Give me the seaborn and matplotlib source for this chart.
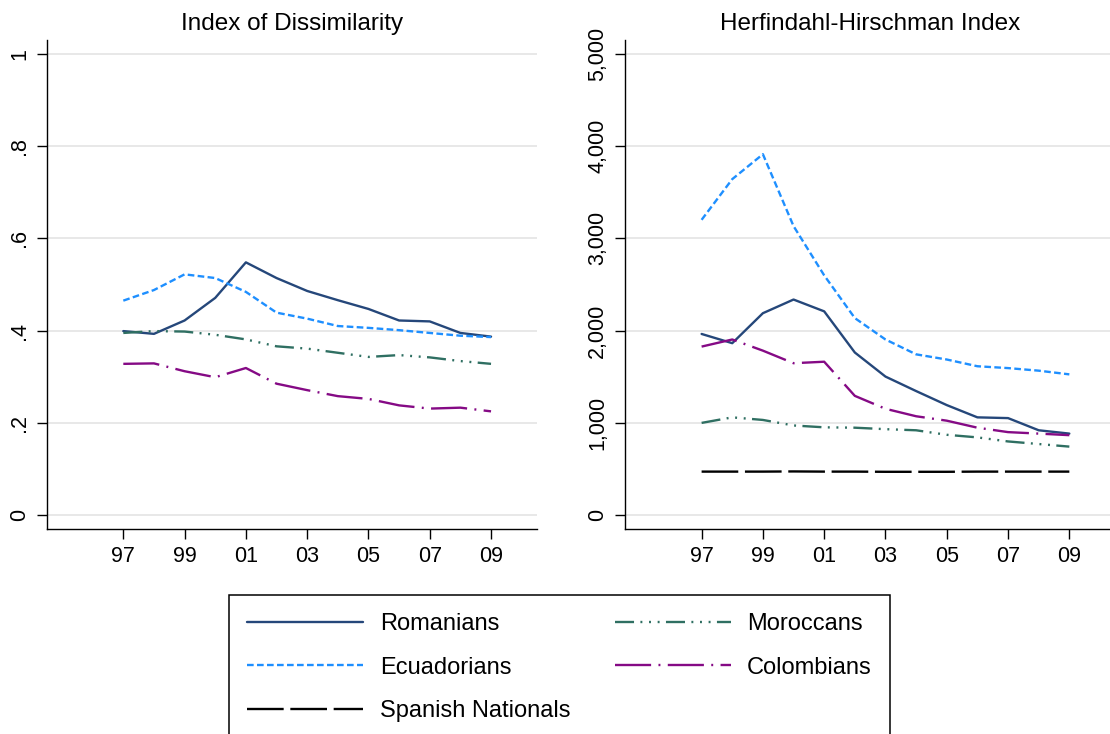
import matplotlib
matplotlib.use("Agg")
import matplotlib.pyplot as plt
import seaborn as sns
import numpy as np

years = [1997, 1998, 1999, 2000, 2001, 2002, 2003, 2004, 2005, 2006, 2007, 2008, 2009]
xtick_vals = [1997, 1999, 2001, 2003, 2005, 2007, 2009]
xtick_labels = ["97", "99", "01", "03", "05", "07", "09"]

# Index of Dissimilarity
dis_romanians   = [0.399, 0.393, 0.422, 0.471, 0.548, 0.514, 0.486, 0.466, 0.447, 0.422, 0.420, 0.395, 0.387]
dis_ecuadorians = [0.465, 0.488, 0.522, 0.514, 0.484, 0.439, 0.426, 0.410, 0.406, 0.401, 0.395, 0.389, 0.386]
dis_moroccans   = [0.395, 0.399, 0.398, 0.391, 0.381, 0.366, 0.361, 0.352, 0.343, 0.347, 0.342, 0.334, 0.328]
dis_colombians  = [0.328, 0.329, 0.312, 0.299, 0.319, 0.285, 0.271, 0.258, 0.252, 0.238, 0.231, 0.233, 0.225]

# Herfindahl-Hirschman Index
hhi_romanians   = [1964, 1864, 2189, 2337, 2209, 1763, 1502, 1345, 1193, 1060, 1052, 920, 884]
hhi_ecuadorians = [3201, 3642, 3912, 3133, 2599, 2136, 1904, 1743, 1687, 1614, 1594, 1566, 1526]
hhi_moroccans   = [1000, 1060, 1032, 972, 952, 948, 932, 920, 871, 843, 799, 771, 743]
hhi_colombians  = [1827, 1904, 1783, 1647, 1663, 1293, 1153, 1072, 1024, 948, 900, 884, 867]
hhi_spanish     = [472, 472, 472, 474, 472, 472, 470, 470, 470, 472, 472, 472, 472]

dis_yticks = [0, 0.2, 0.4, 0.6, 0.8, 1.0]
dis_ylabels = ["0", ".2", ".4", ".6", ".8", "1"]
hhi_yticks = [0, 1000, 2000, 3000, 4000, 5000]
hhi_ylabels = ["0", "1,000", "2,000", "3,000", "4,000", "5,000"]

sns.set_theme(style="white")
plt.rcParams["font.family"] = ["Liberation Sans", "DejaVu Sans"]
plt.rcParams["lines.scale_dashes"] = False
for k in ["text.color", "axes.labelcolor", "xtick.color", "ytick.color", "axes.edgecolor"]:
    plt.rcParams[k] = "black"

styles = {
    "Romanians": dict(color="#25477a", linestyle="-"),
    "Ecuadorians": dict(color="#1e8fff", linestyle=(0, (4.8, 2.4))),
    "Spanish Nationals": dict(color="#000000", linestyle=(0, (26.4, 4.8))),
    "Moroccans": dict(color="#2f6f62", linestyle=(0, (13.7, 4.6, 1.4, 4.8, 1.4, 4.8, 1.4, 4.6))),
    "Colombians": dict(color="#850a85", linestyle=(0, (26, 5.3, 1.4, 5.3))),
}

W, H = 1110, 734
fig = plt.figure(figsize=(W / 100, H / 100), dpi=100)
ax1 = fig.add_axes([46.7 / W, (H - 529) / H, 490.3 / W, (529 - 40) / H])
ax2 = fig.add_axes([625 / W, (H - 529) / H, 490.3 / W, (529 - 40) / H])

lw = 1.7

def draw(ax, name, vals):
    st = styles[name]
    sns.lineplot(x=years, y=vals, ax=ax, color=st["color"], linestyle=st["linestyle"],
                 linewidth=lw, label=name, zorder=3)

draw(ax1, "Romanians", dis_romanians)
draw(ax1, "Ecuadorians", dis_ecuadorians)
draw(ax1, "Moroccans", dis_moroccans)
draw(ax1, "Colombians", dis_colombians)

draw(ax2, "Romanians", hhi_romanians)
draw(ax2, "Ecuadorians", hhi_ecuadorians)
draw(ax2, "Spanish Nationals", hhi_spanish)
draw(ax2, "Moroccans", hhi_moroccans)
draw(ax2, "Colombians", hhi_colombians)

for ax, yt, yl, lim, title in [
    (ax1, dis_yticks, dis_ylabels, (-0.03, 1.03), "Index of Dissimilarity"),
    (ax2, hhi_yticks, hhi_ylabels, (-150, 5150), "Herfindahl-Hirschman Index"),
]:
    ax.set_xlim(1994.5, 2010.5)
    ax.set_ylim(*lim)
    ax.set_xticks(xtick_vals)
    ax.set_xticklabels(xtick_labels)
    ax.set_yticks(yt)
    ax.set_yticklabels(yl, rotation=90, va="center")
    ax.set_xlabel("")
    ax.set_ylabel("")
    ax.set_title(title, fontsize=17.5, pad=7, color="black")
    for s in ["top", "right"]:
        ax.spines[s].set_visible(False)
    for s in ["left", "bottom"]:
        ax.spines[s].set_color("black")
        ax.spines[s].set_linewidth(1.0)
    ax.tick_params(axis="both", which="major", direction="out", length=7, width=1.0,
                   color="black", labelcolor="black", labelsize=15.5, pad=5,
                   left=True, bottom=True)
    ax.yaxis.grid(True, color="#e6e6e6", linewidth=1.3)
    ax.xaxis.grid(False)
    ax.set_axisbelow(True)
    ax.set_facecolor("white")
    leg = ax.get_legend()
    if leg is not None:
        leg.remove()

handles, labels = ax2.get_legend_handles_labels()
order = ["Romanians", "Ecuadorians", "Spanish Nationals", "Moroccans", "Colombians"]
hmap = dict(zip(labels, handles))
leg = fig.legend([hmap[k] for k in order], order, ncol=2, loc="upper left",
                 bbox_to_anchor=(229 / W, 1 - 595 / H), bbox_transform=fig.transFigure,
                 fontsize=17, handlelength=4.9, handletextpad=0.7, columnspacing=1.9,
                 labelspacing=0.9, borderpad=0.78, frameon=True, fancybox=False,
                 edgecolor="black", framealpha=1, borderaxespad=0)
leg.get_frame().set_linewidth(1.1)
for t in leg.get_texts():
    t.set_color("black")

fig.savefig("out.png", dpi=100, facecolor="white")
